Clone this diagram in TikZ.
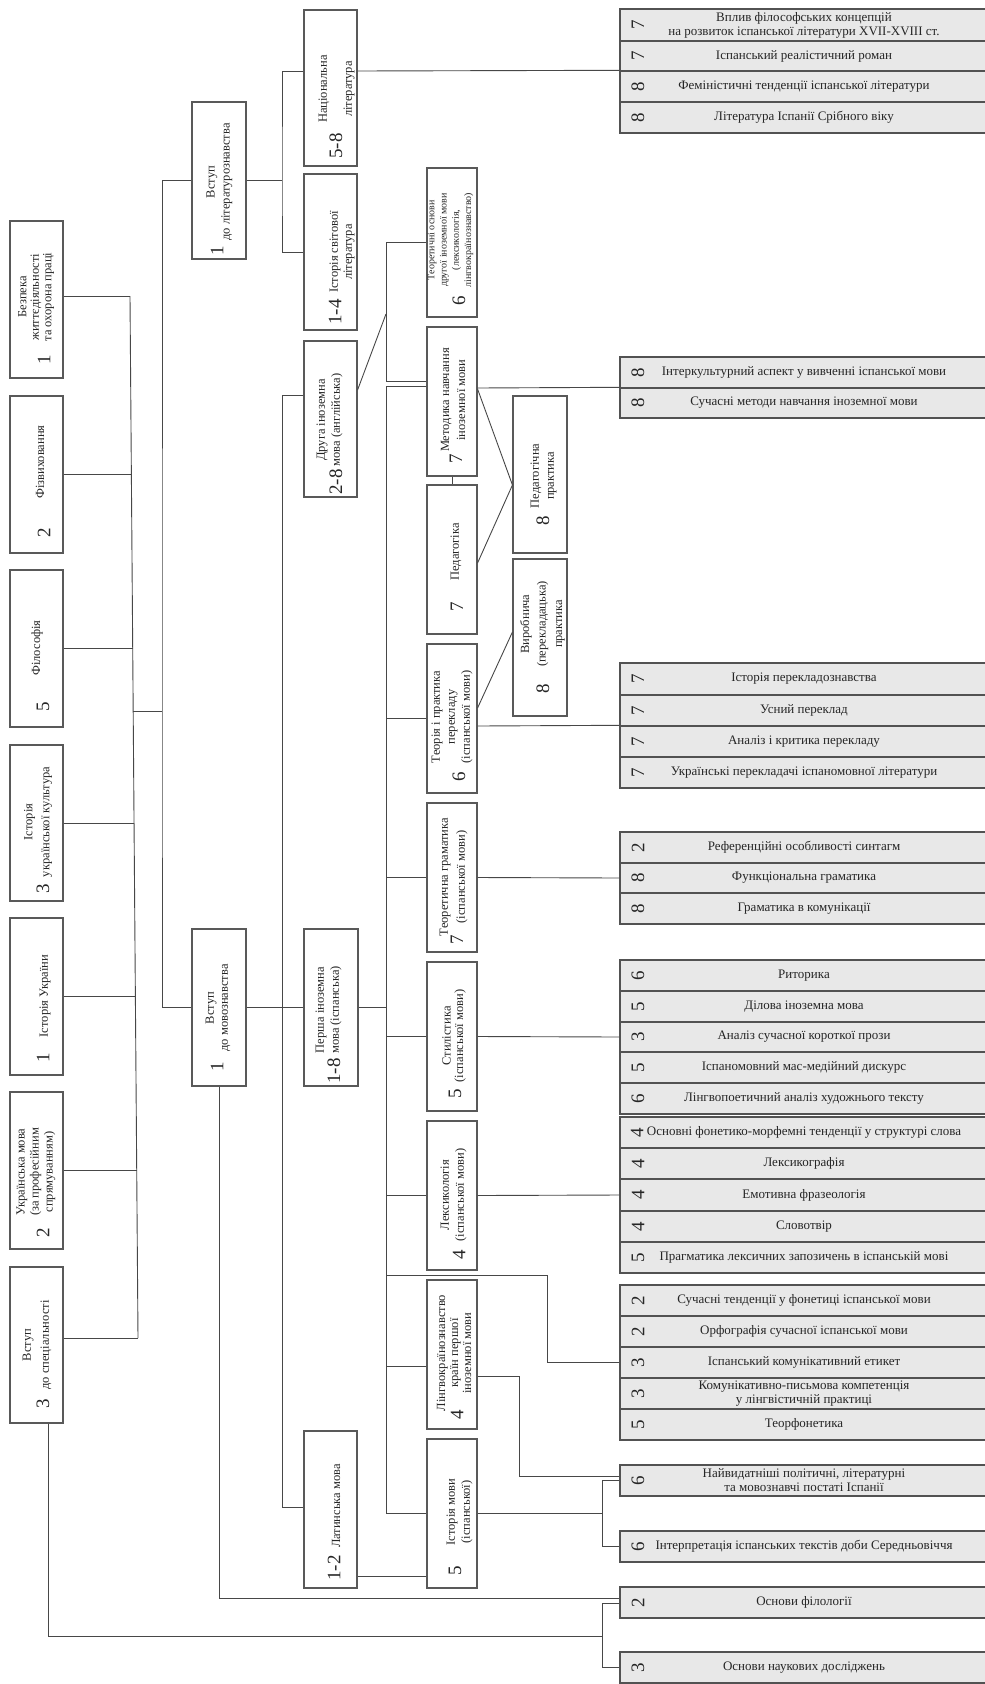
\documentclass[tikz,border=0pt]{standalone}
\usepackage{fontspec}
\setmainfont{Liberation Serif}
\usetikzlibrary{calc}
\begin{document}
\begin{tikzpicture}[x=1pt,y=-1pt,
  conn/.style={draw=black!72, line width=0.9pt},
  cbox/.style={draw=black!65, line width=1.1pt, fill=white, inner sep=0pt, rectangle},
  lrow/.style={draw=black!68, line width=1.4pt, fill=black!9, inner sep=0pt, minimum width=368pt, align=center, text=black!85, font=\fontsize{13}{14}\selectfont},
  vt/.style={rotate=90, align=center, inner sep=0pt, text=black!85, font=\fontsize{12.5}{#1}\selectfont},
  vt/.default=13.5,
  vts/.style={rotate=90, align=center, inner sep=0pt, text=black!85, font=\fontsize{10}{12.3}\selectfont},
  vnum/.style={rotate=90, inner sep=0pt, text=black!85, font=\fontsize{19}{19}\selectfont},
]
\useasboundingbox (0,0) rectangle (985,1684);

% ---------------- left column ----------------
\node[cbox, minimum width=53pt, minimum height=157pt] (bezp) at (36.5,299.5) {};
\node[vt=12.5] (bezpT) at (36,297) {Безпека\\життєдіяльності\\та охорона праці};
\node[vnum] (bezpN) at (44,360) {1};

\node[cbox, minimum width=53pt, minimum height=157pt] (fiz) at (36.5,474.5) {};
\node[vt] (fizT) at (40,462) {Фізвиховання};
\node[vnum] (fizN) at (44,533) {2};

\node[cbox, minimum width=53pt, minimum height=157pt] (filos) at (36.5,648.5) {};
\node[vt] (filosT) at (37,648) {Філософія};
\node[vnum] (filosN) at (43,707) {5};

\node[cbox, minimum width=53pt, minimum height=156pt] (iuk) at (36.5,823) {};
\node[vt=17] (iukT) at (38,822) {Історія\\української культура};
\node[vnum] (iukN) at (43,889) {3};

\node[cbox, minimum width=53pt, minimum height=157pt] (iu) at (36.5,996.5) {};
\node[vt] (iuT) at (45,996) {Історія України};
\node[vnum] (iuN) at (43,1058) {1};

\node[cbox, minimum width=53pt, minimum height=157pt] (ukr) at (36.5,1170.5) {};
\node[vt=14] (ukrT) at (36,1172) {Українська мова\\(за професійним\\спрямуванням)};
\node[vnum] (ukrN) at (43,1233) {2};

\node[cbox, minimum width=53pt, minimum height=156pt] (vsp) at (36.5,1345) {};
\node[vt=18] (vspT) at (37,1345) {Вступ\\до спеціальності};
\node[vnum] (vspN) at (43,1404) {3};

% ---------------- column A ----------------
\node[cbox, minimum width=54pt, minimum height=157pt] (vlit) at (219,180.5) {};
\node[vt=15] (vlitT) at (219.5,182) {Вступ\\до літературознавства};
\node[vnum] (vlitN) at (217,251) {1};

\node[cbox, minimum width=54pt, minimum height=157pt] (vmov) at (219,1007.5) {};
\node[vt=14] (vmovT) at (218,1008) {Вступ\\до мовознавства};
\node[vnum] (vmovN) at (217,1067) {1};

% ---------------- column B ----------------
\node[cbox, minimum width=53pt, minimum height=156pt] (nac) at (330.5,88) {};
\node[vt=25] (nacT) at (336.5,89) {Національна\\література};
\node[vnum] (nacN) at (336,146) {5-8};

\node[cbox, minimum width=53pt, minimum height=156pt] (isl) at (330.5,252) {};
\node[vt=14] (islT) at (342,252) {Історія світової\\література};
\node[vnum] (islN) at (335,312) {1-4};

\node[cbox, minimum width=53pt, minimum height=156pt] (dru) at (330.5,419) {};
\node[vt=15] (druT) at (329.5,420) {Друга іноземна\\мова (англійська)};
\node[vnum] (druN) at (336,482) {2-8};

\node[cbox, minimum width=54pt, minimum height=157pt] (per) at (331,1007.5) {};
\node[vt=15] (perT) at (328.5,1010) {Перша іноземна\\мова (іспанська)};
\node[vnum] (perN) at (334,1071) {1-8};

\node[cbox, minimum width=53pt, minimum height=157pt] (lat) at (330.5,1509.5) {};
\node[vt] (latT) at (336,1506) {Латинська мова};
\node[vnum] (latN) at (334,1568) {1-2};

% ---------------- column C ----------------
\node[cbox, minimum width=50pt, minimum height=149pt] (teo) at (452,242.5) {};
\node[vts] (teoT) at (450.5,240) {Теоретичні основи\\другої іноземної мови\\(лексикологія,\\лінгвокраїнознавство)};
\node[vnum] (teoN) at (459,301) {6};

\node[cbox, minimum width=50pt, minimum height=149pt] (met) at (452,401.5) {};
\node[vt=16] (metT) at (453,400) {Методика навчання\\іноземної мови};
\node[vnum] (metN) at (456,459) {7};

\node[cbox, minimum width=50pt, minimum height=149pt] (ped) at (452,559.5) {};
\node[vt] (pedT) at (456,552) {Педагогіка};
\node[vnum] (pedN) at (457,607) {7};

\node[cbox, minimum width=50pt, minimum height=149pt] (tp) at (452,718.5) {};
\node[vt=15] (tpT) at (452,717) {Теорія і практика\\перекладу\\(іспанської мови)};
\node[vnum] (tpN) at (459,777) {6};

\node[cbox, minimum width=50pt, minimum height=149pt] (tg) at (452,877.5) {};
\node[vt=17] (tgT) at (453.5,877) {Теоретична граматика\\(іспанської мови)};
\node[vnum] (tgN) at (457,940) {7};

\node[cbox, minimum width=50pt, minimum height=149pt] (sti) at (452,1036.5) {};
\node[vt=12.5] (stiT) at (454,1036) {Стилістика\\(іспанської мови)};
\node[vnum] (stiN) at (455,1094) {5};

\node[cbox, minimum width=50pt, minimum height=149pt] (lex) at (452,1195.5) {};
\node[vt=15] (lexT) at (453.5,1195) {Лексикологія\\(іспанської мови)};
\node[vnum] (lexN) at (459,1255) {4};

\node[cbox, minimum width=50pt, minimum height=149pt] (lin) at (452,1354.5) {};
\node[vt=13] (linT) at (454,1353) {Лінгвокраїнознавство\\країн першої\\іноземної мови};
\node[vnum] (linN) at (457,1415) {4};

\node[cbox, minimum width=50pt, minimum height=149pt] (im) at (452,1513.5) {};
\node[vt=15] (imT) at (459.5,1512) {Історія мови\\(іспанської)};
\node[vnum] (imN) at (455,1571) {5};

% ---------------- column D ----------------
\node[cbox, minimum width=54pt, minimum height=157pt] (pp) at (540,474.5) {};
\node[vt=15] (ppT) at (543.5,476) {Педагогічна\\практика};
\node[vnum] (ppN) at (543,521) {8};

\node[cbox, minimum width=54pt, minimum height=157pt] (vp) at (540,637.5) {};
\node[vt=16.5] (vpT) at (542.5,624) {Виробнича\\(перекладацька)\\практика};
\node[vnum] (vpN) at (543,689) {8};

% ---------------- right lists ----------------
\node[lrow, minimum height=32pt] (r1a) at (804,25) {Вплив філософських концепцій\\на розвиток іспанської літератури XVII-XVIII ст.};
\node[lrow, minimum height=30pt] (r1b) at (804,56) {Іспанський реалістичний роман};
\node[lrow, minimum height=31pt] (r1c) at (804,86.5) {Феміністичні тенденції іспанської літератури};
\node[lrow, minimum height=31pt] (r1d) at (804,117.5) {Література Іспанії Срібного віку};
\node[vnum] (r1aN) at (638,25) {7};
\node[vnum] (r1bN) at (638,56) {7};
\node[vnum] (r1cN) at (638,86.5) {8};
\node[vnum] (r1dN) at (638,117.5) {8};

\node[lrow, minimum height=31pt] (r2a) at (804,372.5) {Інтеркультурний аспект у вивченні іспанської мови};
\node[lrow, minimum height=30pt] (r2b) at (804,403) {Сучасні методи навчання іноземної мови};
\node[vnum] (r2aN) at (638,372.5) {8};
\node[vnum] (r2bN) at (638,403) {8};

\node[lrow, minimum height=32pt] (r3a) at (804,679) {Історія перекладознавства};
\node[lrow, minimum height=31pt] (r3b) at (804,710.5) {Усний переклад};
\node[lrow, minimum height=31pt] (r3c) at (804,741.5) {Аналіз і критика перекладу};
\node[lrow, minimum height=31pt] (r3d) at (804,772.5) {Українські перекладачі іспаномовної літератури};
\node[vnum] (r3aN) at (638,679) {7};
\node[vnum] (r3bN) at (638,710.5) {7};
\node[vnum] (r3cN) at (638,741.5) {7};
\node[vnum] (r3dN) at (638,772.5) {7};

\node[lrow, minimum height=31pt] (r4a) at (804,847.5) {Референційні особливості синтагм};
\node[lrow, minimum height=30pt] (r4b) at (804,878) {Функціональна граматика};
\node[lrow, minimum height=31pt] (r4c) at (804,908.5) {Граматика в комунікації};
\node[vnum] (r4aN) at (638,847.5) {2};
\node[vnum] (r4bN) at (638,878) {8};
\node[vnum] (r4cN) at (638,908.5) {8};

\node[lrow, minimum height=31pt] (r5a) at (804,975.5) {Риторика};
\node[lrow, minimum height=31pt] (r5b) at (804,1006.5) {Ділова іноземна мова};
\node[lrow, minimum height=30pt] (r5c) at (804,1037) {Аналіз сучасної короткої прози};
\node[lrow, minimum height=31pt] (r5d) at (804,1067.5) {Іспаномовний мас-медійний дискурс};
\node[lrow, minimum height=31pt] (r5e) at (804,1098.5) {Лінгвопоетичний аналіз художнього тексту};
\node[vnum] (r5aN) at (638,975.5) {6};
\node[vnum] (r5bN) at (638,1006.5) {5};
\node[vnum] (r5cN) at (638,1037) {3};
\node[vnum] (r5dN) at (638,1067.5) {5};
\node[vnum] (r5eN) at (638,1098.5) {6};

\node[lrow, minimum height=31pt] (r6a) at (804,1132.5) {Основні фонетико-морфемні тенденції у структурі слова};
\node[lrow, minimum height=31pt] (r6b) at (804,1163.5) {Лексикографія};
\node[lrow, minimum height=32pt] (r6c) at (804,1195) {Емотивна фразеологія};
\node[lrow, minimum height=31pt] (r6d) at (804,1226.5) {Словотвір};
\node[lrow, minimum height=31pt] (r6e) at (804,1257.5) {Прагматика лексичних запозичень в іспанській мові};
\node[vnum] (r6aN) at (637,1132.5) {4};
\node[vnum] (r6bN) at (638,1163.5) {4};
\node[vnum] (r6cN) at (638,1195) {4};
\node[vnum] (r6dN) at (638,1226.5) {4};
\node[vnum] (r6eN) at (638,1257.5) {5};

\node[lrow, minimum height=31pt] (r7a) at (804,1300.5) {Сучасні тенденції у фонетиці іспанської мови};
\node[lrow, minimum height=31pt] (r7b) at (804,1331.5) {Орфографія сучасної іспанської мови};
\node[lrow, minimum height=31pt] (r7c) at (804,1362.5) {Іспанський комунікативний етикет};
\node[lrow, minimum height=31pt] (r7d) at (804,1393.5) {Комунікативно-письмова компетенція\\у лінгвістичній практиці};
\node[lrow, minimum height=31pt] (r7e) at (804,1424.5) {Теорфонетика};
\node[vnum] (r7aN) at (638,1300.5) {2};
\node[vnum] (r7bN) at (638,1331.5) {2};
\node[vnum] (r7cN) at (638,1362.5) {3};
\node[vnum] (r7dN) at (638,1393.5) {3};
\node[vnum] (r7eN) at (638,1424.5) {5};

\node[lrow, minimum height=31pt] (r8) at (804,1480.5) {Найвидатніші політичні, літературні\\та мовознавчі постаті Іспанії};
\node[vnum] (r8N) at (638,1480.5) {6};
\node[lrow, minimum height=31pt] (r9) at (804,1546.5) {Інтерпретація іспанських текстів доби Середньовіччя};
\node[vnum] (r9N) at (638,1546.5) {6};
\node[lrow, minimum height=31pt] (r10) at (804,1602.5) {Основи філології};
\node[vnum] (r10N) at (638,1602.5) {2};
\node[lrow, minimum height=31pt] (r11) at (804,1667.5) {Основи наукових досліджень};
\node[vnum] (r11N) at (638,1667.5) {3};

% ---------------- connectors ----------------
% bus 1 (left)
\coordinate (b1t) at (130,296);
\coordinate (b1b) at (138,1338);
\coordinate (j1) at (133.2,711);
\coordinate (b2m) at (162,711);
\draw[conn] (b1t) -- (b1b);
\draw[conn] (bezp.east |- b1t) -- (b1t);
\draw[conn] (fiz.east) -- (fiz.east -| 131.4,0);
\draw[conn] (filos.east) -- (filos.east -| 132.7,0);
\draw[conn] (iuk.east) -- (iuk.east -| 134,0);
\draw[conn] (iu.east) -- (iu.east -| 135.4,0);
\draw[conn] (ukr.east) -- (ukr.east -| 136.7,0);
\draw[conn] (vsp.east |- b1b) -- (b1b);
\draw[conn] (j1) -- (b2m);
% bus 2
\draw[conn] (vlit.west) -| (b2m) |- (vmov.west);
% bus 3 (literature)
\coordinate (b3a) at (282,180.5);
\draw[conn] (vlit.east) -- (b3a);
\draw[conn] (nac.west |- 0,71) -| (b3a) |- (isl.west);
\draw[conn] (nac.east |- 0,71) -- (r1c.north west);
% bus 4 (languages)
\coordinate (b4t) at (282,395);
\coordinate (b4b) at (282,1507);
\draw[conn] (dru.west |- b4t) -- (b4t) -- (b4b) -- (lat.west |- b4b);
\draw[conn] (vmov.east) -- (per.west);
% second foreign language bracket
\coordinate (br1t) at (386,242.5);
\coordinate (br1b) at (386,381);
\coordinate (br1d) at (386,314);
\draw[conn] (teo.west) -- (br1t) -- (br1b) -- (met.west |- br1b);
\draw[conn] (dru.east |- 0,390) -- (br1d);
% bus 5 (first foreign language)
\coordinate (b5t) at (386,386);
\coordinate (b5b) at (386,1513.5);
\coordinate (b5p) at (386,1275);
\draw[conn] (met.west |- b5t) -- (b5t) -- (b5b) -- (im.west);
\draw[conn] (per.east) -- (per.east -| b5t);
\draw[conn] (tp.west) -- (tp.west -| b5t);
\draw[conn] (tg.west) -- (tg.west -| b5t);
\draw[conn] (sti.west) -- (sti.west -| b5t);
\draw[conn] (lex.west) -- (lex.west -| b5t);
\draw[conn] (lin.west |- 0,1366) -- (b5t |- 0,1366);
\draw[conn] (b5p) -| (547,1362.5) -- (r7c.west);
% methodology / practice
\draw[conn] (met.east |- 0,388) -- (r2b.north west);
\draw[conn] (met.south) -- (ped.north);
\draw[conn] (met.east |- 0,389) -- (pp.west |- 0,485);
\draw[conn] (ped.east |- 0,563) -- (pp.west |- 0,485);
\draw[conn] (tp.east |- 0,708) -- (vp.west |- 0,632);
\draw[conn] (tp.east |- 0,726) -- (r3c.north west);
\draw[conn] (tg.east) -- (r4b.west);
\draw[conn] (sti.east) -- (r5c.west);
\draw[conn] (lex.east) -- (r6c.west);
\draw[conn] (lin.east |- 0,1376) -| (519,1476) -- (r8.west |- 0,1476);
% history of language bracket
\coordinate (br2t) at (602,1480);
\coordinate (br2b) at (602,1546.5);
\draw[conn] (im.east) -- (im.east -| br2t);
\draw[conn] (r8.west |- br2t) -- (br2t) -- (br2b) -- (r9.west);
\draw[conn] (lat.east |- 0,1576) -- (im.west |- 0,1576);
% bottom connections
\draw[conn] (vmov.south) -- (vmov.south |- 0,1598) -- (r10.west |- 0,1598);
\coordinate (br3t) at (602,1603);
\coordinate (br3b) at (602,1667.5);
\draw[conn] (r10.west |- br3t) -- (br3t) -- (br3b) -- (r11.west);
\draw[conn] (vsp.south -| 48,0) -- (48,1636) -- (br3t |- 0,1636);
\end{tikzpicture}
\end{document}
